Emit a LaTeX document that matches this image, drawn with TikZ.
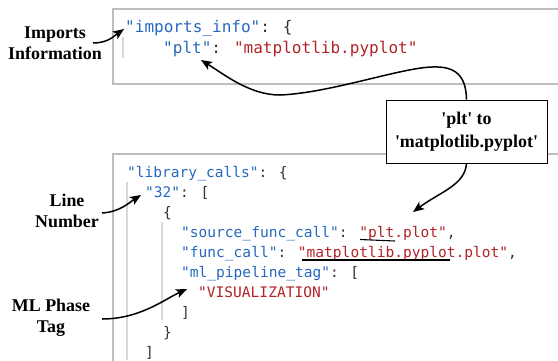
\documentclass[tikz,border=0pt]{standalone}
\usepackage{fontspec}
\setmainfont{Liberation Serif}
\newfontfamily\codefont{DejaVu Sans Mono}
\usetikzlibrary{arrows.meta}
\definecolor{keyc}{RGB}{38,104,190}
\definecolor{strc}{RGB}{178,34,40}
\definecolor{punc}{RGB}{50,50,50}
\definecolor{framec}{RGB}{190,190,190}
\definecolor{guidec}{RGB}{215,215,215}
\newcommand\jk[1]{\textcolor{keyc}{#1}}
\newcommand\js[1]{\textcolor{strc}{#1}}
\newcommand\jp[1]{\textcolor{punc}{#1}}
\begin{document}
\begin{tikzpicture}[x=1bp,y=-1bp,
 codeA/.style={anchor=base west, inner sep=0pt, font=\codefont\fontsize{16.1}{20}\selectfont},
 codeB/.style={anchor=base west, inner sep=0pt, font=\codefont\fontsize{14.6}{20}\selectfont},
 lab/.style={align=center, inner sep=0pt, font=\bfseries\fontsize{18}{21}\selectfont},
 arr/.style={line width=1.5bp, -{Stealth[length=11bp,width=9bp,inset=2.5bp]}},
 panel/.style={draw=framec, line width=1.6bp},
 guideline/.style={draw=guidec, line width=1.2bp},
 uline/.style={line width=1.1bp, black}]
\useasboundingbox (0,0) rectangle (558,360);
\begin{scope}
\clip (0,0) rectangle (558,360);
\draw[panel] (113,9) rectangle (600,84);
\draw[panel] (113,154) rectangle (600,400);
\end{scope}
% indentation guides
\draw[guideline] (123,37) -- (123,58);
\draw[guideline] (127,182) -- (127,360);
\draw[guideline] (162,222) -- (162,320);
% top code
\node[codeA] (t1) at (125,32) {\jk{"imports\_info"}\jp{: \{}};
\node[codeA] (t2) at (163,53) {\jk{"plt"}\jp{: }\js{"matplotlib.pyplot"}};
% bottom code
\node[codeB] (b1) at (127,177) {\jk{"library\_calls"}\jp{: \{}};
\node[codeB] (b2) at (145,197) {\jk{"32"}\jp{: [}};
\node[codeB] (b3) at (163,217) {\jp{\{}};
\node[codeB] (b4) at (181,237) {\jk{"source\_func\_call"}\jp{: }\js{"plt.plot"}\jp{,}};
\node[codeB] (b5) at (181,257) {\jk{"func\_call"}\jp{: }\js{"matplotlib.pyplot.plot"}\jp{,}};
\node[codeB] (b6) at (181,277) {\jk{"ml\_pipeline\_tag"}\jp{: [}};
\node[codeB] (b7) at (198,297) {\js{"VISUALIZATION"}};
\node[codeB] (b8) at (181,317) {\jp{]}};
\node[codeB] (b9) at (163,337) {\jp{\}}};
\node[codeB] (b10) at (145,357) {\jp{]}};
% underlines
\draw[uline] (360,239.5) -- (395,241);
\draw[uline] (302,260) -- (450,260);
% left labels
\node[lab] (imp) at (55,43.5) {Imports\\Information};
\node[lab] (lnum) at (67,210.5) {Line\\Number};
\node[lab] (mlt) at (51,318) {ML Phase\\Tag};
\coordinate (a1s) at (93,43);
\coordinate (a1e) at (124,29);
\coordinate (a2s) at (102,213);
\coordinate (a2e) at (141,195);
\coordinate (a3s) at (102,319);
\coordinate (a3e) at (187,289);
\draw[arr] (a1s) .. controls (108,43) and (114,36) .. (a1e);
\draw[arr] (a2s) .. controls (120,212) and (130,202) .. (a2e);
\draw[arr] (a3s) .. controls (140,319) and (165,299) .. (a3e);
% mapping box
\node[draw=black, line width=0.9bp, fill=white, align=center, inner sep=0pt,
  minimum width=161bp, minimum height=63bp,
  font=\bfseries\fontsize{18}{23}\selectfont] (lbl) at (466.5,131.5)
  {\textquotesingle plt\textquotesingle{} to\\\textquotesingle matplotlib.pyplot\textquotesingle};
\coordinate (pltend) at (201,60);
\coordinate (callend) at (413,212);
\draw[arr] (lbl.north) .. controls (466,75) and (455,66) .. (432,67)
  .. controls (400,68) and (330,93) .. (280,95)
  .. controls (250,95) and (225,75) .. (pltend);
\draw[arr] (lbl.south) .. controls (465,185) and (440,192) .. (callend);
\end{tikzpicture}
\end{document}
